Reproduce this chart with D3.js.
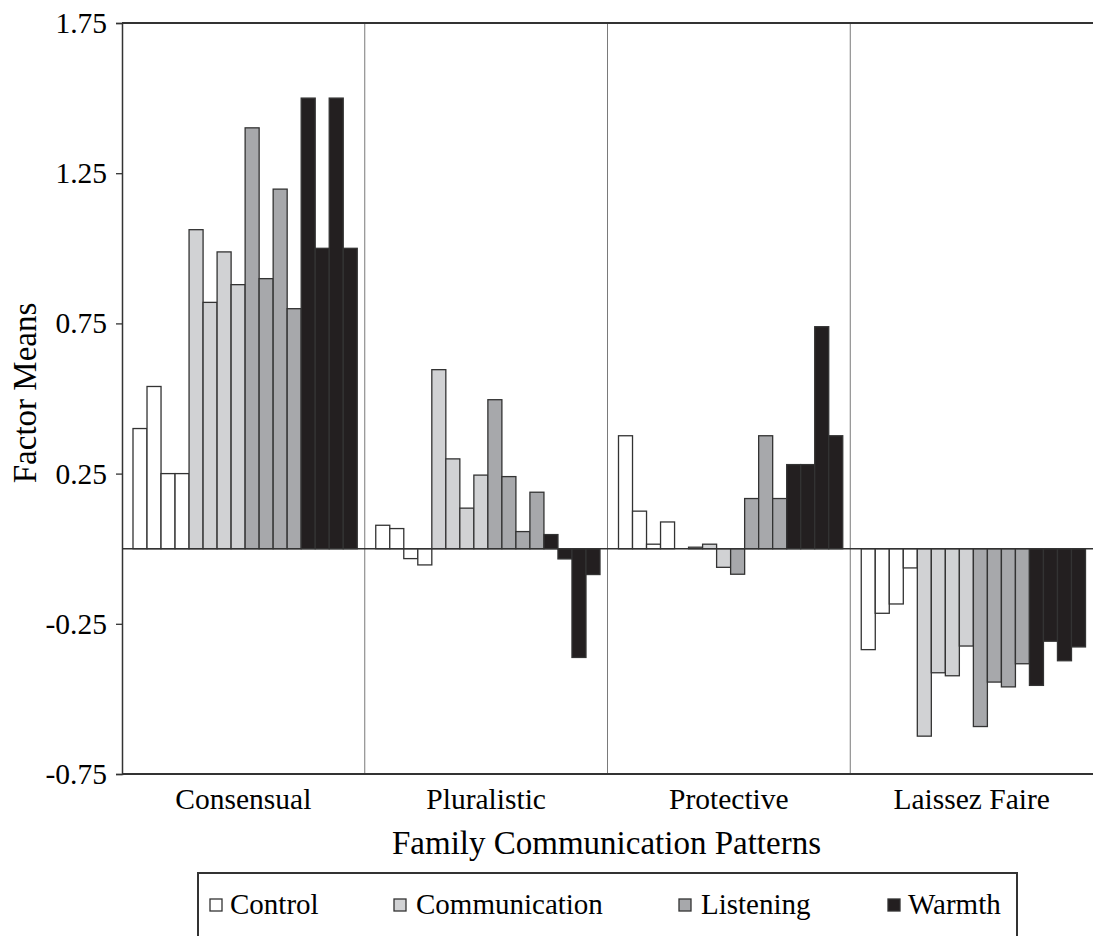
<!DOCTYPE html>
<html>
<head>
<meta charset="utf-8">
<script src="https://cdn.jsdelivr.net/npm/d3@7"></script>
<style>
  html, body { margin: 0; padding: 0; background: #fff; }
  svg { display: block; font-family: "Liberation Serif", "Times New Roman", serif; }
</style>
</head>
<body>
<svg id="chart" width="1093" height="936"></svg>
<script>
// categories along the x axis
const categories = ["Consensual", "Pluralistic", "Protective", "Laissez Faire"];
const seriesNames = ["Control", "Communication", "Listening", "Warmth"];
const seriesColors = ["#ffffff", "#d1d2d4", "#a7a8ab", "#231f20"];

// four bars per series in each category
const control = [
  [0.40, 0.54, 0.25, 0.25],
  [0.078, 0.067, -0.033, -0.054],
  [0.376, 0.125, 0.015, 0.089],
  [-0.336, -0.215, -0.184, -0.064]
];
const communication = [
  [1.062, 0.820, 0.988, 0.879],
  [0.596, 0.299, 0.135, 0.245],
  [0.0, 0.005, 0.015, -0.062],
  [-0.624, -0.413, -0.423, -0.324]
];
const listening = [
  [1.401, 0.899, 1.197, 0.799],
  [0.496, 0.240, 0.057, 0.188],
  [-0.085, 0.167, 0.376, 0.167],
  [-0.592, -0.444, -0.460, -0.383]
];
const warmth = [
  [1.50, 1.00, 1.50, 1.00],
  [0.047, -0.034, -0.362, -0.086],
  [0.280, 0.280, 0.739, 0.376],
  [-0.455, -0.308, -0.373, -0.327]
];
const yTicks = [-0.75, -0.25, 0.25, 0.75, 1.25, 1.75];

const allSeries = [control, communication, listening, warmth];

// flatten into bar records
const bars = [];
categories.forEach((cat, ci) => {
  allSeries.forEach((s, si) => {
    s[ci].forEach((v, k) => {
      bars.push({ cat, series: si, slot: si * 4 + k, value: v });
    });
  });
});

const svg = d3.select("#chart");
const margin = { top: 23, right: 0, bottom: 162, left: 122 };
const W = 1093, H = 936;
const width = W - margin.left - margin.right;
const height = H - margin.top - margin.bottom;

const g = svg.append("g").attr("transform", `translate(${margin.left},${margin.top})`);

const x0 = d3.scaleBand().domain(categories).range([0, width]).padding(0);
const x1 = d3.scaleBand().domain(d3.range(16)).range([11, x0.bandwidth() - 7.5]).padding(0);
const y = d3.scaleLinear().domain([-0.75, 1.75]).range([height, 0]);

// group separators
g.selectAll(".sep")
  .data(categories.slice(1))
  .enter()
  .append("line")
  .attr("x1", d => x0(d))
  .attr("x2", d => x0(d))
  .attr("y1", 0)
  .attr("y2", height)
  .attr("stroke", "#7a7a7a")
  .attr("stroke-width", 1);

// bars
g.selectAll(".bar")
  .data(bars)
  .enter()
  .append("rect")
  .attr("x", d => x0(d.cat) + x1(d.slot))
  .attr("y", d => y(Math.max(0, d.value)))
  .attr("width", x1.bandwidth())
  .attr("height", d => Math.abs(y(d.value) - y(0)))
  .attr("fill", d => seriesColors[d.series])
  .attr("stroke", "#333")
  .attr("stroke-width", 1.3);

// zero line
g.append("line")
  .attr("x1", 0).attr("x2", width)
  .attr("y1", y(0)).attr("y2", y(0))
  .attr("stroke", "#333").attr("stroke-width", 1.5);

// top border
g.append("line")
  .attr("x1", 0).attr("x2", width)
  .attr("y1", 0).attr("y2", 0)
  .attr("stroke", "#333").attr("stroke-width", 2);

// bottom axis line
g.append("line")
  .attr("x1", 0).attr("x2", width)
  .attr("y1", height).attr("y2", height)
  .attr("stroke", "#333").attr("stroke-width", 2);

// y axis
const yAxis = g.append("g")
  .call(d3.axisLeft(y).tickValues(yTicks).tickSize(6).tickPadding(9)
    .tickFormat(d => d.toFixed(2)));
yAxis.select(".domain").attr("stroke", "#333").attr("stroke-width", 1.5);
yAxis.selectAll(".tick line").attr("stroke", "#333").attr("stroke-width", 1.3);
yAxis.selectAll(".tick text")
  .attr("fill", "#000")
  .style("font-family", "Liberation Serif, serif")
  .style("font-size", "29.5px");

// category labels
g.selectAll(".cat")
  .data(categories)
  .enter()
  .append("text")
  .attr("x", d => x0(d) + x0.bandwidth() / 2)
  .attr("y", height + 35)
  .attr("text-anchor", "middle")
  .attr("fill", "#000")
  .style("font-size", "29.5px")
  .text(d => d);

// x title
g.append("text")
  .attr("x", width / 2 - 1)
  .attr("y", height + 80)
  .attr("text-anchor", "middle")
  .attr("fill", "#000")
  .style("font-size", "33px")
  .text("Family Communication Patterns");

// y title
svg.append("text")
  .attr("transform", `translate(36,393) rotate(-90)`)
  .attr("text-anchor", "middle")
  .attr("fill", "#000")
  .style("font-size", "33px")
  .text("Factor Means");

// legend
const legend = svg.append("g");
legend.append("rect")
  .attr("x", 198).attr("y", 873)
  .attr("width", 819).attr("height", 90)
  .attr("fill", "none")
  .attr("stroke", "#333")
  .attr("stroke-width", 2);

const legendX = [210, 394, 679, 888];
const items = legend.selectAll(".item")
  .data(seriesNames)
  .enter()
  .append("g")
  .attr("transform", (d, i) => `translate(${legendX[i]},899)`);
items.append("rect")
  .attr("width", 12).attr("height", 12)
  .attr("fill", (d, i) => seriesColors[i])
  .attr("stroke", "#333")
  .attr("stroke-width", 1.3);
items.append("text")
  .attr("x", (d, i) => i === 0 ? 20 : i === 3 ? 20 : 22)
  .attr("y", 15)
  .attr("fill", "#000")
  .style("font-size", "29px")
  .text(d => d);
</script>
</body>
</html>
